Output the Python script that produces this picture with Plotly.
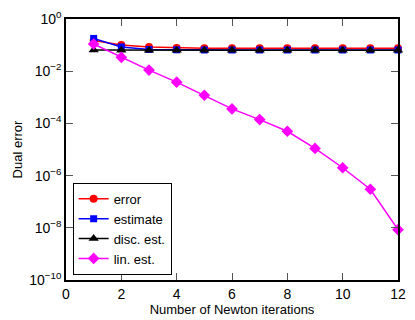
import plotly.graph_objects as go

iterations = [1, 2, 3, 4, 5, 6, 7, 8, 9, 10, 11, 12]
error_vals = [0.15, 0.10, 0.085, 0.078, 0.076, 0.075, 0.075, 0.075, 0.075, 0.075, 0.075, 0.075]
estimate_vals = [0.18, 0.085, 0.068, 0.066, 0.065, 0.065, 0.065, 0.065, 0.065, 0.065, 0.065, 0.065]
disc_vals = [0.065, 0.064, 0.063, 0.063, 0.063, 0.063, 0.063, 0.063, 0.063, 0.063, 0.063, 0.063]
lin_vals = [0.11, 0.034, 0.011, 3.8e-3, 1.2e-3, 3.6e-4, 1.4e-4, 5e-5, 1.1e-5, 2e-6, 3e-7, 8.5e-9]

x_ticks = [0, 2, 4, 6, 8, 10, 12]
y_tickvals = [1, 1e-2, 1e-4, 1e-6, 1e-8, 1e-10]
y_ticktext = ["10<sup>0</sup>", "10<sup>−2</sup>", "10<sup>−4</sup>", "10<sup>−6</sup>",
              "10<sup>−8</sup>", "10<sup>−10</sup>"]

series = [
    ("error", error_vals, "#ff0000", "circle", 8),
    ("estimate", estimate_vals, "#0000ff", "square", 7),
    ("disc. est.", disc_vals, "#000000", "triangle-up", 9),
    ("lin. est.", lin_vals, "#ff00ff", "diamond", 9),
]

fig = go.Figure()
for name, vals, color, sym, size in series:
    fig.add_trace(go.Scatter(
        x=iterations, y=vals, name=name, mode="lines+markers",
        line=dict(color=color, width=1.5),
        marker=dict(symbol=sym, size=size, color=color),
        cliponaxis=False,
    ))

font = dict(family="Liberation Sans, Arial, sans-serif", size=12, color="black")
fig.update_layout(
    width=415, height=320,
    margin=dict(l=66, r=9, t=18, b=35),
    paper_bgcolor="white", plot_bgcolor="white",
    font=font,
    showlegend=True,
    legend=dict(x=0.02, y=0.02, xanchor="left", yanchor="bottom",
                bordercolor="black", borderwidth=1, bgcolor="white",
                font=dict(size=13), tracegroupgap=0, itemwidth=30),
    xaxis=dict(
        range=[0, 12], tickvals=x_ticks, ticks="inside", ticklen=7,
        tickcolor="#555", showline=True, linecolor="black", linewidth=1.5,
        mirror="ticks", showgrid=False, zeroline=False,
        title=dict(text="Number of Newton iterations", standoff=0, font=dict(size=13)),
        tickfont=dict(size=14),
    ),
    yaxis=dict(
        type="log", range=[-10, 0], tickvals=y_tickvals, ticktext=y_ticktext,
        ticks="inside", ticklen=7, tickcolor="#555", showline=True,
        linecolor="black", linewidth=1.5, mirror="ticks", showgrid=False,
        zeroline=False, title=dict(text="Dual error", standoff=4, font=dict(size=13)),
        tickfont=dict(size=14),
    ),
)

fig.write_html("out.html", config={"displayModeBar": False},
               post_script="document.body.style.margin='0';")
